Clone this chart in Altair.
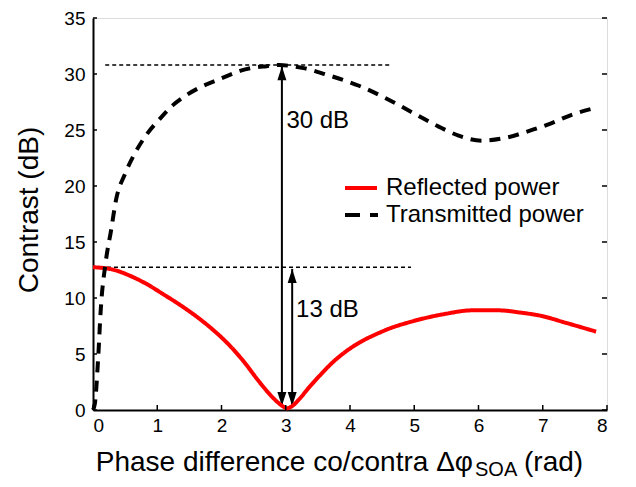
import altair as alt
import pandas as pd

# ---- data ----
refl_x = [0, 0.3, 0.57, 0.85, 1.09, 1.35, 1.61, 1.87, 2.12, 2.35, 2.59, 2.8, 2.95, 3.02, 3.1, 3.2,
          3.36, 3.55, 3.72, 3.93, 4.14, 4.4, 4.65, 4.9, 5.2, 5.5, 5.9, 6.31, 6.65, 6.98, 7.35, 7.83]
refl_y = [12.75, 12.55, 12.0, 11.2, 10.35, 9.4, 8.35, 7.15, 5.8, 4.3, 2.5, 1.1, 0.35, 0.15, 0.35, 0.9,
          2.0, 3.2, 4.2, 5.2, 6.0, 6.75, 7.35, 7.8, 8.25, 8.6, 8.9, 8.9, 8.7, 8.4, 7.8, 7.0]

trans_x = [0, 0.03, 0.08, 0.12, 0.2, 0.28, 0.36, 0.5, 0.65, 0.81, 1.04, 1.24, 1.45, 1.7, 1.95, 2.12,
           2.3, 2.48, 2.7, 2.9, 3.1, 3.3, 3.63, 3.9, 4.14, 4.5, 4.8, 5.07, 5.38, 5.69, 6.05, 6.42,
           6.78, 7.13, 7.47, 7.83]
trans_y = [0, 0.6, 4.6, 8.9, 13.3, 16.0, 18.8, 21.1, 22.9, 24.4, 26.0, 27.2, 28.1, 28.9, 29.5, 29.9,
           30.3, 30.55, 30.7, 30.8, 30.7, 30.5, 29.95, 29.45, 28.95, 28.0, 27.1, 26.25, 25.3, 24.5, 24.05, 24.3,
           24.9, 25.6, 26.4, 27.0]

series_names = ["Reflected power", "Transmitted power"]
series_colors = ["#ff0000", "#000000"]
series_dash = [[1, 0], [11, 8]]

x_ticks = [0, 1, 2, 3, 4, 5, 6, 7, 8]
y_ticks = [0, 5, 10, 15, 20, 25, 30, 35]

# reference (dotted) lines: level, start, end
ref_level = [30.8, 12.75]
ref_start = [0.19, 0.0]
ref_end = [4.65, 4.95]

# double arrows: x, bottom, top
arrow_x = [2.94, 3.10]
arrow_lo = [0.35, 0.35]
arrow_hi = [30.7, 12.6]

ann_text = ["30 dB", "13 dB"]
ann_x = [3.01, 3.16]
ann_y = [25.8, 8.9]

W, H = 514, 392
FONT = "Liberation Sans"

curves = pd.DataFrame(
    {"x": refl_x + trans_x,
     "y": refl_y + trans_y,
     "series": [series_names[0]] * len(refl_x) + [series_names[1]] * len(trans_x)}
)

xs = alt.Scale(domain=[0, 8], nice=False, zero=False)
ys = alt.Scale(domain=[0, 35], nice=False, zero=False)

lines = alt.Chart(curves).mark_line(strokeWidth=4, interpolate="monotone").encode(
    x=alt.X("x:Q", scale=xs,
            axis=alt.Axis(values=x_ticks, format="d", title=None, grid=False, ticks=False, tickSize=0,
                          labelPadding=6, labelFontSize=19, labelFont=FONT, labelColor="black",
                          domainColor="black", domainWidth=2)),
    y=alt.Y("y:Q", scale=ys,
            axis=alt.Axis(values=y_ticks, format="d", title=None, grid=False, ticks=False, tickSize=0,
                          labelPadding=8, labelFontSize=19, labelFont=FONT, labelColor="black",
                          domainColor="black", domainWidth=2)),
    color=alt.Color("series:N", scale=alt.Scale(domain=series_names, range=series_colors), legend=None),
    strokeDash=alt.StrokeDash("series:N", scale=alt.Scale(domain=series_names, range=series_dash),
                              legend=None),
)

refs = alt.Chart(pd.DataFrame({"lvl": ref_level, "a": ref_start, "b": ref_end})).mark_rule(
    color="black", strokeWidth=1.6, strokeDash=[4, 3]
).encode(x=alt.X("a:Q", scale=xs), x2="b:Q", y=alt.Y("lvl:Q", scale=ys))

arrows_df = pd.DataFrame({"x": arrow_x, "lo": arrow_lo, "hi": arrow_hi})
arrow_rules = alt.Chart(arrows_df).mark_rule(color="black", strokeWidth=2).encode(
    x=alt.X("x:Q", scale=xs), y=alt.Y("lo:Q", scale=ys), y2="hi:Q")
head_up = alt.Chart(arrows_df).mark_point(
    shape="M0,0 L-0.9,2.8 L0.9,2.8 Z", size=100, filled=True, color="black", opacity=1
).encode(x=alt.X("x:Q", scale=xs), y=alt.Y("hi:Q", scale=ys))
head_down = alt.Chart(arrows_df).mark_point(
    shape="M0,0 L-0.9,-2.8 L0.9,-2.8 Z", size=100, filled=True, color="black", opacity=1
).encode(x=alt.X("x:Q", scale=xs), y=alt.Y("lo:Q", scale=ys))

ann = alt.Chart(pd.DataFrame({"t": ann_text, "x": ann_x, "y": ann_y})).mark_text(
    align="left", baseline="middle", fontSize=24, font=FONT, color="black"
).encode(x=alt.X("x:Q", scale=xs), y=alt.Y("y:Q", scale=ys), text="t:N")

# inward tick marks (bottom, left, right)
xt = alt.Chart(pd.DataFrame({"v": x_ticks})).mark_rule(color="black", strokeWidth=1.5).encode(
    x=alt.X("v:Q", scale=xs), y=alt.value(H), y2=alt.value(H - 5))
ytl = alt.Chart(pd.DataFrame({"v": y_ticks})).mark_rule(color="black", strokeWidth=1.5).encode(
    y=alt.Y("v:Q", scale=ys), x=alt.value(0), x2=alt.value(4))
ytr = alt.Chart(pd.DataFrame({"v": y_ticks})).mark_rule(color="black", strokeWidth=1.5).encode(
    y=alt.Y("v:Q", scale=ys), x=alt.value(W), x2=alt.value(W - 5))

# manual legend (inside plot)
leg_red = alt.Chart(pd.DataFrame({"s": [series_names[0]]})).mark_rule(
    color=series_colors[0], strokeWidth=4).encode(x=alt.value(252), x2=alt.value(284), y=alt.value(170))
leg_blk = alt.Chart(pd.DataFrame({"s": [series_names[1]]})).mark_rule(
    color=series_colors[1], strokeWidth=4, strokeDash=[15, 10]).encode(
    x=alt.value(252), x2=alt.value(285), y=alt.value(197))
leg_txt = alt.Chart(pd.DataFrame({"t": series_names, "yy": [170, 197]})).mark_text(
    align="left", baseline="middle", fontSize=24, font=FONT, color="black"
).encode(text="t:N", x=alt.value(293), y=alt.Y("yy:Q", scale=None))

# axis titles as text
ytitle = alt.Chart(pd.DataFrame({"t": ["Contrast (dB)"]})).mark_text(
    angle=270, align="center", baseline="middle", fontSize=28, font=FONT, color="black"
).encode(text="t:N", x=alt.value(-63), y=alt.value(192))
xt1 = alt.Chart(pd.DataFrame({"t": ["Phase difference co/contra \u0394\u03c6"]})).mark_text(
    align="right", baseline="alphabetic", fontSize=28, font=FONT, color="black"
).encode(text="t:N", x=alt.value(380), y=alt.value(453))
xt2 = alt.Chart(pd.DataFrame({"t": ["SOA"]})).mark_text(
    align="left", baseline="alphabetic", fontSize=20, font=FONT, color="black"
).encode(text="t:N", x=alt.value(382), y=alt.value(458))
xt3 = alt.Chart(pd.DataFrame({"t": ["(rad)"]})).mark_text(
    align="left", baseline="alphabetic", fontSize=28, font=FONT, color="black"
).encode(text="t:N", x=alt.value(431), y=alt.value(453))

chart = alt.layer(
    refs, arrow_rules, head_up, head_down, lines, ann, xt, ytl, ytr,
    leg_red, leg_blk, leg_txt, ytitle, xt1, xt2, xt3
).properties(
    width=W, height=H,
    autosize=alt.AutoSizeParams(type="none"),
    padding={"left": 85, "top": 10, "right": 12, "bottom": 69},
).configure_view(stroke="black", strokeWidth=1.5).configure(background="white")

chart.save("out.html", embed_options={"renderer": "svg", "actions": False})
